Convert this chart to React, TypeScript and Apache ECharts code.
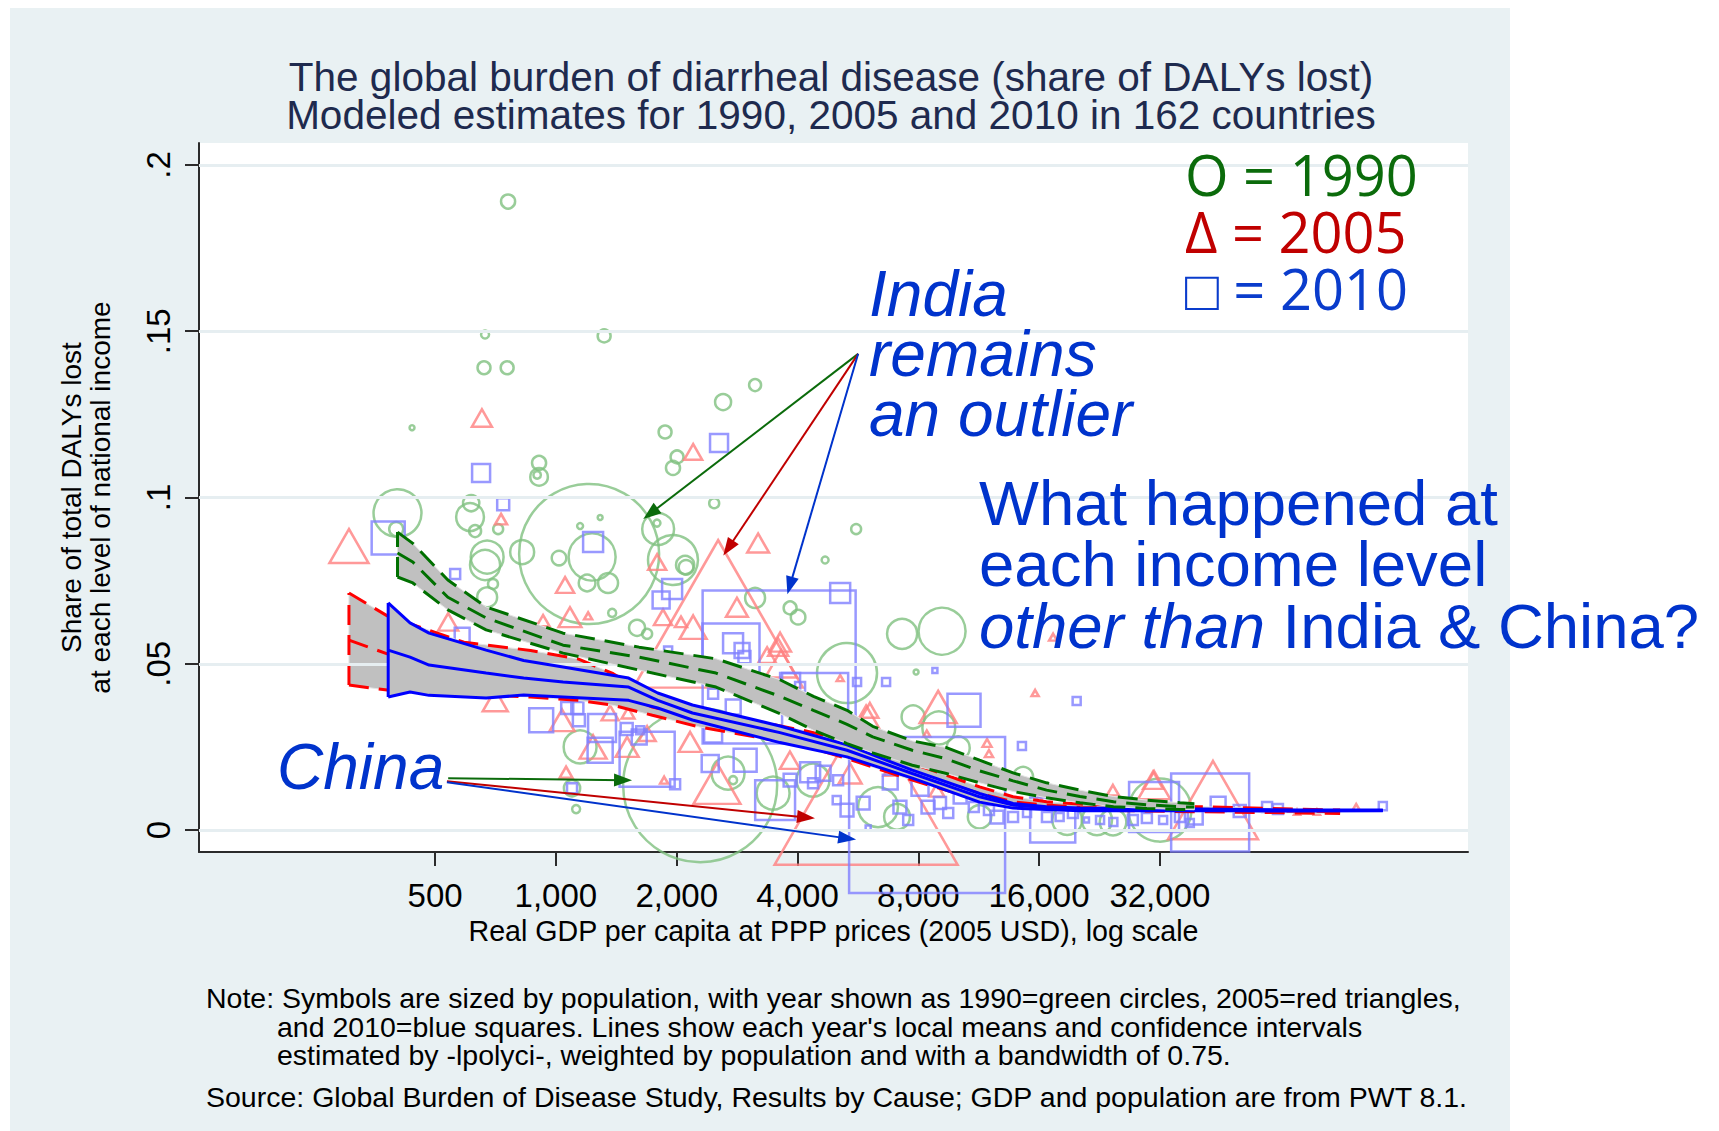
import React, { useEffect, useRef } from "react";
import * as echarts from "echarts";

const FONT = '"Liberation Sans", Arial, sans-serif';
const LEGEND_FONT = '"Open Sans", "Noto Sans", sans-serif';

// ---------- axes ----------
const xTickValues = [500, 1000, 2000, 4000, 8000, 16000, 32000];
const yTickValues = [0, 0.05, 0.1, 0.15, 0.2];
const X_RANGE = [129, 187500];
const Y_RANGE = [-0.0066, 0.2066];

// ---------- scatter: [GDP per capita, share of DALYs, population (millions)] ----------
const circles1990 = [
  [760, 0.189, 9], [666, 0.149, 2.9], [1319, 0.1486, 7.6], [662, 0.139, 7.6], [756, 0.139, 7.6],
  [438, 0.121, 1.1], [3136, 0.1338, 6.5], [2610, 0.1287, 11.6], [1871, 0.1197, 7.6], [2004, 0.1122, 7.6],
  [1958, 0.1089, 9], [908, 0.1104, 9], [908, 0.1062, 14], [898, 0.1068, 2.5], [2480, 0.0983, 4.5],
  [403, 0.0953, 104], [400, 0.0905, 9], [615, 0.0983, 12], [611, 0.0941, 35], [629, 0.0899, 6.5],
  [718, 0.0905, 4.5], [1210, 0.083, 887], [1289, 0.094, 1.1], [1149, 0.0914, 1.6], [1798, 0.0905, 46],
  [1786, 0.0923, 2.2], [1958, 0.0812, 113], [674, 0.0821, 49], [824, 0.0836, 26], [1018, 0.0818, 9.6],
  [1231, 0.0821, 100], [2099, 0.0797, 15], [666, 0.0797, 41], [697, 0.074, 4.5], [674, 0.07, 18],
  [1196, 0.0743, 12.6], [1349, 0.0743, 18], [1381, 0.0653, 2.9], [1593, 0.0608, 11.6], [1688, 0.059, 4.5],
  [3136, 0.0698, 18], [3834, 0.0668, 7.6], [4014, 0.064, 9.6], [1149, 0.025, 49], [2288, 0.0135, 1074],
  [2686, 0.0171, 49], [1097, 0.0126, 12], [1123, 0.0063, 2.9], [3478, 0.0111, 49], [2764, 0.015, 2.9],
  [4687, 0.0812, 2.2], [5600, 0.0905, 4.5], [2110, 0.079, 9.6], [7290, 0.059, 41], [9170, 0.0598, 100],
  [5315, 0.0472, 163], [7900, 0.0475, 1.1], [7765, 0.034, 24], [9000, 0.0307, 49], [10060, 0.0247, 24],
  [4373, 0.015, 49], [6350, 0.0069, 72], [7080, 0.004, 30], [11370, 0.004, 25], [14600, 0.016, 18],
  [18800, 0.003, 40], [22300, 0.003, 41], [24460, 0.0024, 32], [32000, 0.006, 180],
];

const triangles2005 = [
  [305, 0.0854, 61], [654, 0.1239, 16], [2198, 0.1137, 13], [730, 0.0935, 5.8], [3191, 0.0863, 19],
  [1788, 0.0806, 13], [1054, 0.0737, 13], [1203, 0.0644, 2.6], [1084, 0.064, 21], [1849, 0.064, 13],
  [2198, 0.061, 29], [2826, 0.067, 19], [2050, 0.0626, 5.8], [3620, 0.0565, 19], [539, 0.0626, 16],
  [929, 0.063, 6.5], [706, 0.039, 25], [1036, 0.033, 25], [1365, 0.0352, 11.6], [1513, 0.0352, 6.5],
  [1688, 0.029, 11.6], [1505, 0.025, 21], [1238, 0.025, 29], [1060, 0.0174, 6.5], [1861, 0.015, 2.6],
  [2160, 0.0265, 21], [3580, 0.055, 16], [3360, 0.0526, 13], [3640, 0.05, 40], [2520, 0.014, 88],
  [2537, 0.065, 1150], [5930, 0.0135, 1340], [3830, 0.021, 16], [5110, 0.0457, 2], [8966, 0.037, 55],
  [11870, 0.0262, 3.2], [12000, 0.023, 2.6], [15640, 0.0412, 2], [17340, 0.058, 2.6], [6060, 0.036, 11.6],
  [6810, 0.018, 7], [5410, 0.017, 21], [8400, 0.029, 2], [8900, 0.012, 9], [16000, 0.009, 5.8],
  [30780, 0.015, 16], [24440, 0.012, 5.8], [30970, 0.0135, 41], [43400, 0.009, 324], [70300, 0.0054, 1.5],
  [78800, 0.0054, 1.5], [98700, 0.0069, 2],
];

const squares2010 = [
  [382, 0.0878, 59], [651, 0.1074, 17.5], [2550, 0.1164, 17.5], [739, 0.098, 7.8], [1238, 0.0866, 21.6],
  [1948, 0.0725, 21.6], [1829, 0.0692, 15.6], [5110, 0.0713, 21.6], [2731, 0.0535, 176], [2764, 0.0562, 21.6],
  [2910, 0.054, 12], [561, 0.077, 5.4], [584, 0.0586, 12], [919, 0.033, 31], [1067, 0.0367, 7.8],
  [1131, 0.0367, 7.8], [1141, 0.033, 7.8], [1303, 0.0307, 42], [1289, 0.024, 34], [1501, 0.0304, 7.8],
  [1622, 0.03, 3.5], [1613, 0.028, 12], [1688, 0.0213, 164], [1982, 0.0138, 5.4], [1097, 0.0126, 5.4],
  [1904, 0.054, 3.5], [2465, 0.029, 17.5], [2424, 0.02, 15.6], [2962, 0.021, 28.6], [2950, 0.052, 7.8],
  [2766, 0.037, 12], [2465, 0.041, 5.4], [3518, 0.009, 86], [3834, 0.0442, 21.6], [4060, 0.043, 5.4],
  [5630, 0.0445, 3.5], [3600, 0.049, 1266], [4426, 0.0373, 236], [10400, 0.036, 59], [6650, 0.0445, 3.5],
  [8800, 0.048, 1.35], [19850, 0.0388, 3.5], [14500, 0.0253, 3.5], [8415, 0.0045, 1316], [4300, 0.0174, 21.6],
  [3834, 0.015, 9], [4373, 0.0141, 5.4], [4634, 0.0171, 12], [5050, 0.015, 5.4], [5010, 0.009, 3.5],
  [5315, 0.006, 9], [5830, 0.0081, 9], [6000, 0.0006, 1.35], [6810, 0.0144, 12], [7200, 0.0069, 9],
  [7550, 0.003, 5.4], [8080, 0.0129, 15.6], [8460, 0.0069, 9], [9060, 0.0081, 7.8], [9500, 0.0051, 5.4],
  [10170, 0.0099, 9], [11000, 0.0069, 5.4], [12000, 0.006, 5.4], [12570, 0.0039, 9], [13780, 0.0039, 5.4],
  [14930, 0.0051, 3.5], [16740, 0.0039, 5.4], [18000, 0.0039, 3.5], [19430, 0.0051, 5.4], [21000, 0.003, 1.35],
  [22700, 0.003, 3.5], [24500, 0.0024, 3.5], [27400, 0.003, 5.4], [29700, 0.0036, 5.4], [32600, 0.003, 3.5],
  [35900, 0.0039, 5.4], [38000, 0.0021, 3.5], [17300, 0.003, 110], [42700, 0.0053, 329], [30950, 0.0069, 135],
  [44700, 0.0078, 12], [50600, 0.0057, 7.8], [59200, 0.0069, 5.4], [63000, 0.0063, 5.4], [115000, 0.0072, 3.5],
  [39200, 0.0039, 12],
];

// ---------- lpolyci local means: [GDP, upper CI, mean, lower CI] ----------
const band1990 = [
  [403, 0.0896, 0.0833, 0.0761], [440, 0.0862, 0.0806, 0.0743], [538, 0.0752, 0.07, 0.0662],
  [670, 0.0671, 0.0638, 0.0602], [1042, 0.0592, 0.0556, 0.0532], [1612, 0.055, 0.052, 0.0481],
  [2506, 0.0515, 0.0472, 0.043], [3617, 0.0452, 0.0402, 0.035], [4383, 0.0402, 0.036, 0.03],
  [5315, 0.036, 0.0318, 0.026], [6160, 0.0312, 0.028, 0.0232], [7730, 0.0268, 0.024, 0.0195],
  [9400, 0.0248, 0.0214, 0.017], [11370, 0.021, 0.0178, 0.0142], [13780, 0.0172, 0.0148, 0.0116],
  [16700, 0.0142, 0.012, 0.0097], [20230, 0.012, 0.0101, 0.0082], [24530, 0.0101, 0.0085, 0.007],
  [29700, 0.009, 0.0076, 0.0065], [35900, 0.0082, 0.007, 0.0062], [39000, 0.0079, 0.0069, 0.0061],
];
const band2005 = [
  [305, 0.0713, 0.0571, 0.0436], [380, 0.0644, 0.053, 0.0421], [590, 0.0565, 0.049, 0.041],
  [865, 0.054, 0.047, 0.04], [1139, 0.0514, 0.0452, 0.039], [1390, 0.047, 0.042, 0.0375],
  [1740, 0.04, 0.037, 0.0345], [2280, 0.036, 0.0335, 0.031], [4120, 0.03, 0.028, 0.0255],
  [5315, 0.027, 0.0245, 0.0215], [7730, 0.02, 0.0175, 0.015], [11370, 0.013, 0.011, 0.009],
  [13780, 0.01, 0.0085, 0.0072], [16700, 0.0085, 0.0075, 0.0065], [20230, 0.0078, 0.0068, 0.006],
  [40000, 0.007, 0.0062, 0.0055], [90000, 0.006, 0.0055, 0.005],
];
const band2010 = [
  [382, 0.0683, 0.0541, 0.04], [433, 0.0623, 0.052, 0.0415], [483, 0.0592, 0.0496, 0.0405],
  [670, 0.0541, 0.0472, 0.0397], [831, 0.051, 0.0457, 0.0406], [1042, 0.049, 0.0445, 0.04],
  [1518, 0.0457, 0.043, 0.039], [1794, 0.0412, 0.039, 0.0367], [2189, 0.0376, 0.0352, 0.0331],
  [3617, 0.0313, 0.0293, 0.0263], [5315, 0.0256, 0.024, 0.022], [7730, 0.018, 0.017, 0.0156],
  [11370, 0.011, 0.01, 0.0084], [13780, 0.008, 0.0075, 0.0066], [16700, 0.007, 0.0067, 0.0062],
  [20230, 0.0066, 0.0063, 0.0058], [40000, 0.0063, 0.0061, 0.0059], [70000, 0.006, 0.0059, 0.0057],
  [115000, 0.006, 0.0059, 0.0058],
];

// ---------- annotation arrows: [from GDP, from share, to GDP, to share] ----------
const indiaArrows = [
  [5665, 0.1432, 1720, 0.0952],
  [5665, 0.1432, 2690, 0.0848],
  [5665, 0.1432, 3830, 0.0735],
];
const chinaArrows = [
  [539, 0.0156, 1470, 0.015],
  [535, 0.0147, 4200, 0.0038],
  [535, 0.0144, 5320, -0.0025],
];
const arrowColors = ["#0b6b0b", "#c00000", "#0033cc"];

const L = (g: number) => Math.log2(g);

function buildOption() {
  const lineStyleFor = (color: string, dashed: boolean) => ({
    color,
    width: 3,
    type: dashed ? [20, 10] : "solid",
  });

  const bandSeries = (band: number[][], color: string, dashed: boolean, z: number) => {
    const poly = {
      type: "custom",
      z,
      silent: true,
      clip: false,
      data: [[L(band[0][0]), band[0][2]]],
      renderItem: (_p: any, api: any) => {
        const up = band.map((r) => api.coord([L(r[0]), r[1]]));
        const lo = band
          .slice()
          .reverse()
          .map((r) => api.coord([L(r[0]), r[3]]));
        return {
          type: "polygon",
          shape: { points: up.concat(lo) },
          style: { fill: "#c0c0c0", stroke: "#e4e4e4", lineWidth: 1 },
        };
      },
    };
    const mk = (data: number[][]) => ({
      type: "line",
      z: z + 1,
      silent: true,
      symbol: "none",
      showSymbol: false,
      smooth: false,
      data,
      lineStyle: lineStyleFor(color, dashed),
    });
    return [
      poly,
      mk(band.map((r) => [L(r[0]), r[1]])),
      mk(band.map((r) => [L(r[0]), r[2]])),
      mk(band.map((r) => [L(r[0]), r[3]])),
      mk([
        [L(band[0][0]), band[0][3]],
        [L(band[0][0]), band[0][1]],
      ]),
    ];
  };

  const arrowData = (arr: number[][]) =>
    arr.map((a, i) => [
      { coord: [L(a[0]), a[1]], lineStyle: { color: arrowColors[i], width: 2, type: "solid" } },
      { coord: [L(a[2]), a[3]] },
    ]);

  const txt = (
    text: string,
    x: number,
    y: number,
    fontSize: number,
    fill: string,
    extra: any = {}
  ) => ({
    type: "text",
    x,
    y,
    z: 100,
    silent: true,
    style: {
      text,
      fill,
      fontSize,
      fontFamily: FONT,
      align: "left",
      verticalAlign: "middle",
      lineHeight: Math.round(fontSize * 0.92),
      ...extra,
    },
  });

  const annBlue = "#0033cc";
  const legendRich = (fill: string) => ({ fontSize: 56, fontFamily: LEGEND_FONT, fill, lineHeight: 57 });
  const annRich = (italic: boolean) => ({
    fontSize: 63.5,
    fontFamily: FONT,
    fontStyle: italic ? "italic" : "normal",
    fill: annBlue,
    lineHeight: 61.5,
  });

  return {
    animation: false,
    backgroundColor: "transparent",
    grid: {
      left: 199,
      top: 143,
      width: 1269,
      height: 709,
      show: true,
      backgroundColor: "#ffffff",
      borderWidth: 0,
    },
    xAxis: {
      type: "value",
      min: L(X_RANGE[0]),
      max: L(X_RANGE[1]),
      axisLine: { show: true, onZero: false, lineStyle: { color: "#2b2b2b", width: 2 } },
      axisTick: {
        show: true,
        length: 14,
        lineStyle: { color: "#2b2b2b", width: 2 },
        customValues: xTickValues.map(L),
      },
      axisLabel: {
        customValues: xTickValues.map(L),
        formatter: (v: number) => Math.round(Math.pow(2, v)).toLocaleString("en-US"),
        fontSize: 33,
        fontFamily: FONT,
        color: "#000",
        margin: 27,
      },
      splitLine: { show: false },
      name: "Real GDP per capita at PPP prices (2005 USD), log scale",
      nameLocation: "middle",
      nameGap: 57,
      nameTextStyle: { fontSize: 28.6, fontFamily: FONT, color: "#000" },
    },
    yAxis: {
      type: "value",
      min: Y_RANGE[0],
      max: Y_RANGE[1],
      axisLine: { show: true, onZero: false, lineStyle: { color: "#2b2b2b", width: 2 } },
      axisTick: {
        show: true,
        length: 14,
        lineStyle: { color: "#2b2b2b", width: 2 },
        customValues: yTickValues,
      },
      axisLabel: {
        customValues: yTickValues,
        rotate: 90,
        formatter: (v: number) => (v === 0 ? "0" : String(v).replace(/^0/, "")),
        fontSize: 33,
        fontFamily: FONT,
        color: "#000",
        margin: 24,
      },
      splitLine: { show: false },
      name: "Share of total DALYs lost\nat each level of national income",
      nameLocation: "middle",
      nameRotate: 90,
      nameGap: 84,
      nameTextStyle: { fontSize: 28, lineHeight: 29, fontFamily: FONT, color: "#000", align: "center" },
    },
    series: [
      {
        type: "scatter",
        data: [],
        z: 1,
        silent: true,
        markLine: {
          silent: true,
          symbol: ["none", "none"],
          label: { show: false },
          lineStyle: { color: "#e6eef1", width: 3, type: "solid" },
          data: yTickValues.map((v) => ({ yAxis: v })),
        },
      },
      {
        type: "scatter",
        z: 2,
        silent: true,
        clip: false,
        symbol: "circle",
        data: circles1990.map((d) => [L(d[0]), d[1], d[2]]),
        symbolSize: (d: number[]) => Math.max(4, 4.7 * Math.sqrt(d[2])),
        itemStyle: { color: "rgba(0,0,0,0)", borderColor: "#80c080", borderWidth: 2.5 },
      },
      {
        type: "scatter",
        z: 2,
        silent: true,
        clip: false,
        symbol: "triangle",
        data: triangles2005.map((d) => [L(d[0]), d[1], d[2]]),
        symbolSize: (d: number[]) => {
          const w = Math.max(5, 5 * Math.sqrt(d[2]));
          return [w, w * 0.87];
        },
        itemStyle: { color: "rgba(0,0,0,0)", borderColor: "#ff8080", borderWidth: 2.5 },
      },
      {
        type: "scatter",
        z: 2,
        silent: true,
        clip: false,
        symbol: "rect",
        data: squares2010.map((d) => [L(d[0]), d[1], d[2]]),
        symbolSize: (d: number[]) => Math.max(4, 4.3 * Math.sqrt(d[2])),
        itemStyle: { color: "rgba(0,0,0,0)", borderColor: "#8080ff", borderWidth: 2.5 },
      },
      ...bandSeries(band2005, "#ff0000", true, 3),
      ...bandSeries(band2010, "#0000ff", false, 5),
      ...bandSeries(band1990, "#007000", true, 7),
      {
        type: "scatter",
        data: [],
        z: 20,
        silent: true,
        markLine: {
          silent: true,
          symbol: ["none", "triangle"],
          symbolSize: [13, 18],
          label: { show: false },
          data: [...arrowData(indiaArrows), ...arrowData(chinaArrows)],
        },
      },
    ],
    graphic: [
      txt(
        "The global burden of diarrheal disease (share of DALYs lost)\nModeled estimates for 1990, 2005 and 2010 in 162 countries",
        831, 96, 40.5, "#1e2a4e", { align: "center", lineHeight: 38 }
      ),
      {
        type: "text",
        x: 1185,
        y: 231,
        z: 100,
        silent: true,
        style: {
          text: "{g|O = 1990}\n{r|Δ = 2005}\n{b|□ = 2010}",
          fontSize: 56,
          fontFamily: LEGEND_FONT,
          align: "left",
          verticalAlign: "middle",
          lineHeight: 57,
          rich: { g: legendRich("#0b6b0b"), r: legendRich("#c00000"), b: legendRich("#0a3ccc") },
        },
      },
      txt("India\nremains\nan outlier", 869, 354, 64, annBlue, { fontStyle: "italic", lineHeight: 60 }),
      {
        type: "text",
        x: 979,
        y: 564,
        z: 100,
        silent: true,
        style: {
          text: "{n|What happened at}\n{n|each income level}\n{i|other than} {n|India & China?}",
          fill: annBlue,
          fontSize: 63.5,
          fontFamily: FONT,
          align: "left",
          verticalAlign: "middle",
          lineHeight: 61.5,
          rich: { i: annRich(true), n: annRich(false) },
        },
      },
      txt("China", 277, 767, 64, annBlue, { fontStyle: "italic", lineHeight: 56 }),
      txt(
        "Note: Symbols are sized by population, with year shown as 1990=green circles, 2005=red triangles,",
        206, 998, 28.5, "#000", { lineHeight: 26 }
      ),
      txt(
        "and 2010=blue squares. Lines show each year's local means and confidence intervals",
        277, 1027, 28.5, "#000", { lineHeight: 26 }
      ),
      txt("estimated by -lpolyci-, weighted by population and with a bandwidth of 0.75.", 277, 1055, 28.5, "#000", {
        lineHeight: 26,
      }),
      txt(
        "Source: Global Burden of Disease Study, Results by Cause; GDP and population are from PWT 8.1.",
        206, 1097, 28.5, "#000", { lineHeight: 26 }
      ),
    ],
  };
}

export default function App() {
  const ref = useRef<HTMLDivElement>(null);
  useEffect(() => {
    if (!ref.current) return;
    const chart = echarts.init(ref.current, null, { renderer: "svg" });
    chart.setOption(buildOption() as any);
    return () => chart.dispose();
  }, []);
  return (
    <div
      style={{
        position: "absolute",
        left: 0,
        top: 0,
        width: 1719,
        height: 1131,
        background: "#ffffff",
        overflow: "hidden",
      }}
    >
      <div
        style={{
          position: "absolute",
          left: 10,
          top: 8,
          width: 1500,
          height: 1123,
          background: "#e9f1f3",
        }}
      />
      <div ref={ref} style={{ position: "absolute", left: 0, top: 0, width: 1719, height: 1131 }} />
    </div>
  );
}
